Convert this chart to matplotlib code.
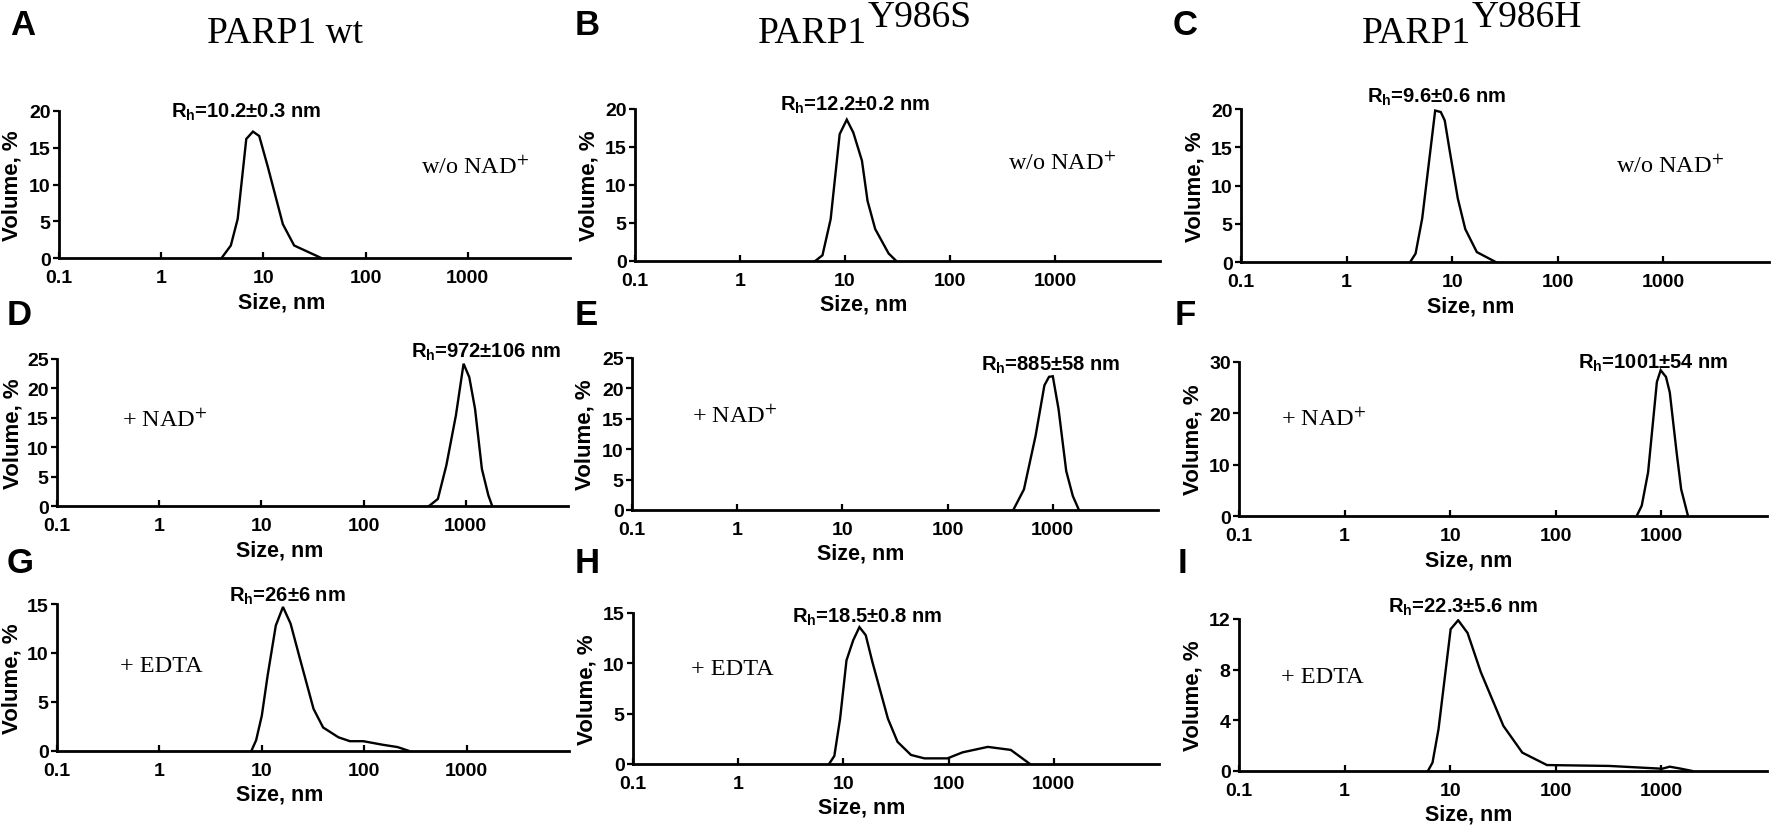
import matplotlib
matplotlib.use("Agg")
import matplotlib.pyplot as plt

plt.rcParams['font.family'] = 'Liberation Sans'
plt.rcParams['mathtext.fontset'] = 'custom'
plt.rcParams['mathtext.rm'] = 'Liberation Sans:bold'
plt.rcParams['mathtext.bf'] = 'Liberation Sans:bold'

# size (nm) / volume (%)
size_A = [3.9, 4.8, 5.6, 6.8, 7.9, 9.1, 11, 15.5, 20, 36.8]
vol_A = [0, 1.7, 5.3, 16.2, 17.2, 16.6, 12.5, 4.6, 1.7, 0]
size_B = [5.2, 6.1, 7.3, 8.9, 10.4, 12, 14.5, 16.4, 19.4, 26, 30.8]
vol_B = [0, 0.75, 5.5, 16.7, 18.6, 16.9, 13.2, 7.9, 4.2, 1.0, 0]
size_C = [4.0, 4.5, 5.2, 6.9, 7.8, 8.5, 9.4, 11.3, 13.3, 17.1, 25.8]
vol_C = [0, 1.1, 5.7, 19.8, 19.6, 18.5, 14.8, 8.3, 4.3, 1.3, 0]
size_D = [437, 533, 645, 800, 951, 1082, 1232, 1437, 1663, 1813]
vol_D = [0, 1.2, 6.9, 15.4, 24.2, 21.9, 16.5, 6.3, 1.8, 0]
size_E = [421, 532, 686, 832, 920, 1000, 1134, 1342, 1550, 1772]
vol_E = [0, 3.4, 12.2, 20.5, 21.9, 22.0, 16.6, 6.4, 2.3, 0]
size_F = [583, 651, 748, 906, 984, 1105, 1200, 1393, 1539, 1786]
vol_F = [0, 2.0, 8.5, 26.1, 28.4, 27.1, 24.1, 12.4, 5.2, 0]
size_G = [7.9, 8.8, 10, 11.4, 13.7, 16.1, 19.1, 23.6, 32, 39.7, 56, 72.5, 98, 151, 212, 275]
vol_G = [0, 1.1, 3.6, 7.7, 12.8, 14.7, 13.0, 9.4, 4.3, 2.4, 1.4, 1.0, 1.0, 0.64, 0.4, 0]
size_H = [7.3, 8.2, 9.3, 10.7, 12.4, 14.2, 16.3, 18.9, 26.5, 32.7, 43.9, 58.9, 97.5, 136, 236, 390, 594]
vol_H = [0, 0.8, 4.5, 10.3, 12.3, 13.6, 12.8, 10.1, 4.5, 2.2, 0.9, 0.56, 0.56, 1.16, 1.7, 1.4, 0]
size_I = [6.15, 6.8, 7.75, 10.1, 11.9, 14.6, 19.5, 31.9, 48.2, 82.4, 320, 1016, 1199, 1536, 1963]
vol_I = [0, 0.66, 3.3, 11.2, 11.9, 10.9, 7.8, 3.56, 1.45, 0.47, 0.4, 0.18, 0.34, 0.18, 0]

sizes = [size_A, size_B, size_C, size_D, size_E, size_F, size_G, size_H, size_I]
vols = [vol_A, vol_B, vol_C, vol_D, vol_E, vol_F, vol_G, vol_H, vol_I]

letters = ['A', 'B', 'C', 'D', 'E', 'F', 'G', 'H', 'I']
rh_labels = ['10.2±0.3 nm', '12.2±0.2 nm', '9.6±0.6 nm',
             '972±106 nm', '885±58 nm', '1001±54 nm',
             '26±6 nm', '18.5±0.8 nm', '22.3±5.6 nm']
conditions = [r'w/o NAD$^{+}$'] * 3 + [r'+ NAD$^{+}$'] * 3 + ['+ EDTA'] * 3
yticks = [[0, 5, 10, 15, 20]] * 3 + [[0, 5, 10, 15, 20, 25]] * 2 + [[0, 10, 20, 30]] + \
         [[0, 5, 10, 15]] * 2 + [[0, 4, 8, 12]]
xticks = [0.1, 1, 10, 100, 1000]
xticklabels = ['0.1', '1', '10', '100', '1000']
title_main = ['PARP1 wt', 'PARP1', 'PARP1']
title_sup = ['', 'Y986S', 'Y986H']

W, H = 1772, 828
# axes boxes in pixels: left, right, top, bottom
boxes = [(59, 570, 112, 259), (635, 1160, 110, 262), (1241, 1769, 110, 263),
         (57, 568, 360, 507), (632, 1158, 359, 511), (1239, 1767, 363, 517),
         (57, 569, 605, 752), (633, 1159, 614, 765), (1239, 1767, 620, 772)]
ylabel_gap = [36, 36, 36, 33, 36, 36, 34, 36, 36]
rh_pos = [(0.366, 1.0), (0.42, 1.03), (0.37, 1.085),
          (0.84, 1.05), (0.795, 0.96), (0.785, 1.0),
          (0.45, 1.06), (0.445, 0.98), (0.425, 1.085)]
cond_pos = [(0.708, 0.62), (0.71, 0.65), (0.71, 0.63),
            (0.128, 0.59), (0.114, 0.62), (0.08, 0.63),
            (0.124, 0.58), (0.11, 0.63), (0.08, 0.62)]
letter_pos = [(10, 35), (575, 35), (1173, 35),
              (7, 325), (575, 325), (1175, 325),
              (7, 573), (575, 573), (1178, 573)]
title_pos = [(285, 43), (758, 43), (1362, 43)]

fig = plt.figure(figsize=(W / 100, H / 100), dpi=100)

axes = []
for i in range(9):
    l, r, t, b = boxes[i]
    w_px, h_px = r - l, b - t
    ax = fig.add_axes([l / W, 1 - b / H, w_px / W, h_px / H])
    axes.append(ax)
    ax.plot(sizes[i], vols[i], color='black', lw=1.7, solid_joinstyle='miter')
    ax.set_xscale('log')
    ax.set_xlim(0.1, 10000)
    ax.set_ylim(0, yticks[i][-1])
    ax.set_xticks(xticks)
    ax.set_xticklabels(xticklabels)
    ax.minorticks_off()
    ax.set_yticks(yticks[i])
    for s in ['top', 'right']:
        ax.spines[s].set_visible(False)
    for s in ['left', 'bottom']:
        ax.spines[s].set_linewidth(2.0)
    ax.tick_params(axis='x', direction='in', length=4, width=1.6, labelsize=14, pad=8)
    ax.tick_params(axis='y', direction='out', length=4, width=1.6, labelsize=14, pad=2)
    for lab in ax.get_xticklabels() + ax.get_yticklabels():
        lab.set_fontweight('bold')
    ax.set_xlabel('Size, nm', fontsize=15.5, fontweight='bold')
    ax.xaxis.set_label_coords(0.435, -33 / h_px)
    ax.set_ylabel('Volume, %', fontsize=16, fontweight='bold')
    ax.yaxis.set_label_coords(-ylabel_gap[i] / w_px, 0.5)
    ax.text(rh_pos[i][0], rh_pos[i][1], r'R$_{\mathrm{h}}$=' + rh_labels[i],
            transform=ax.transAxes, ha='center', va='center', fontsize=14.5, fontweight='bold',
            clip_on=False)
    ax.text(cond_pos[i][0], cond_pos[i][1], conditions[i], transform=ax.transAxes,
            ha='left', va='center', fontsize=17.5, family='Liberation Serif',
            math_fontfamily='stix')
    fig.text(letter_pos[i][0] / W, 1 - letter_pos[i][1] / H, letters[i],
             fontsize=25, fontweight='bold', ha='left', va='baseline')

for j in range(3):
    x, y = title_pos[j]
    t = fig.text(x / W, 1 - y / H, title_main[j], fontsize=27, family='Liberation Serif',
                 ha='center' if j == 0 else 'left', va='baseline')
    if title_sup[j]:
        axes[j].annotate(title_sup[j], xy=(1, 0), xycoords=t, xytext=(0, 11.5),
                         textcoords='offset points', fontsize=27, family='Liberation Serif',
                         ha='left', va='bottom', annotation_clip=False)

fig.savefig('out.png', dpi=100)
